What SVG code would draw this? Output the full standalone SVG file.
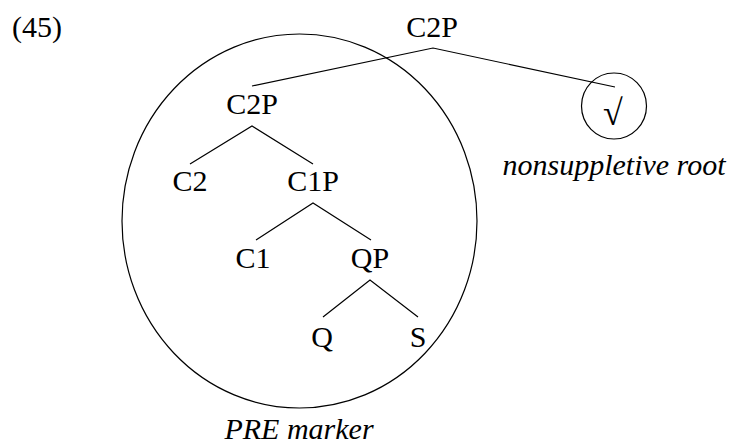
<svg xmlns="http://www.w3.org/2000/svg" width="736" height="445" viewBox="0 0 736 445" font-family="Liberation Serif, Times New Roman, serif">
<style>
text{font-size:30px;fill:#000;text-anchor:middle}
.it{font-style:italic}
.ln{stroke:#000;stroke-width:1.2;fill:none}
</style>
<rect width="736" height="445" fill="#fff"/>
<text x="12" y="37" style="text-anchor:start">(45)</text>
<g id="pre-marker"><ellipse class="ln" cx="299.5" cy="221" rx="177.5" ry="187"/><text class="it" x="299" y="439">PRE marker</text></g>
<g id="root-circle"><ellipse class="ln" cx="614" cy="106" rx="32.5" ry="33"/><text x="613" y="125" style="font-size:36px">√</text><text class="it" x="614" y="175">nonsuppletive root</text></g>
<g id="n-c2p-top"><text x="432" y="37">C2P</text></g>
<g id="n-c2p"><text x="252" y="114">C2P</text></g>
<g id="n-c2"><text x="190" y="191">C2</text></g>
<g id="n-c1p"><text x="313" y="191">C1P</text></g>
<g id="n-c1"><text x="253" y="268">C1</text></g>
<g id="n-qp"><text x="370" y="268">QP</text></g>
<g id="n-q"><text x="322" y="347">Q</text></g>
<g id="n-s"><text x="418" y="347">S</text></g>
<g id="connectors" class="ln">
<polyline points="252,86 433,48 615,87"/>
<polyline points="190,164 252,126 313,164"/>
<polyline points="256,240 313,203 371,240"/>
<polyline points="323,317 370,280 418,317"/>
</g>
</svg>
